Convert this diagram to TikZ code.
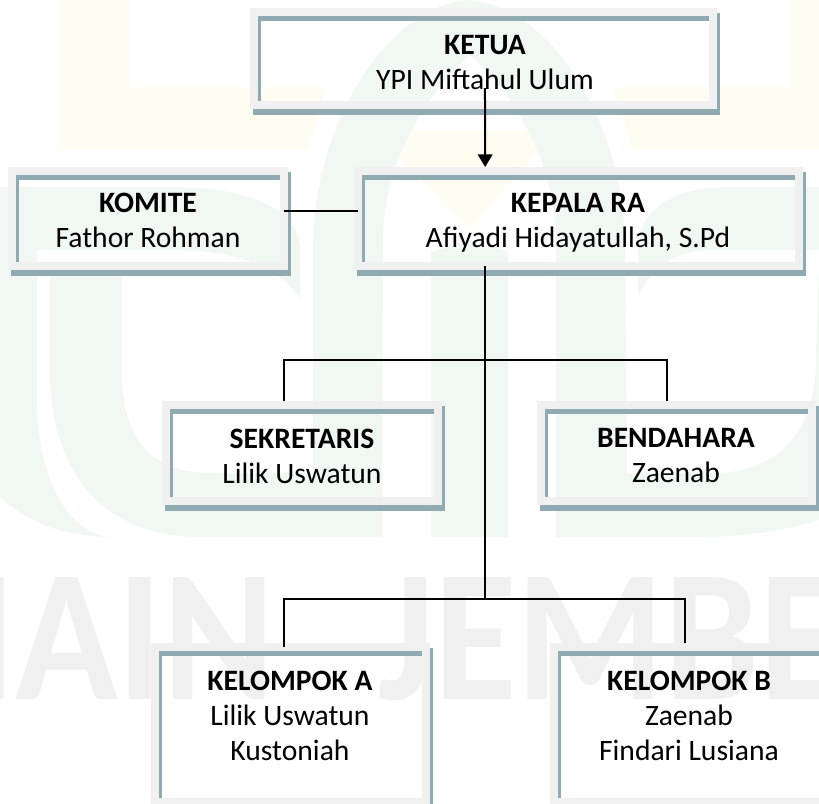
\documentclass[tikz,border=0pt]{standalone}
\usepackage{fontspec}
\setmainfont{Carlito}
\usetikzlibrary{arrows.meta}

\definecolor{framegray}{HTML}{F0F0F0}
\definecolor{frameteal}{HTML}{8FABB1}
\definecolor{markgreen}{HTML}{F1F8F3}
\definecolor{markyellow}{HTML}{FFFDF1}

% shadow lines round a box
\newcommand{\orgframe}[1]{
    \draw [frameteal, line width=3.75pt] ([xshift=3pt, yshift=-4.875pt]#1.north west) -- ([xshift=-3pt, yshift=-4.875pt]#1.north east);
    \draw [frameteal, line width=2.25pt] ([xshift=4.125pt, yshift=-3pt]#1.north west) -- ([xshift=4.125pt, yshift=3pt]#1.south west);
    \draw [frameteal, line width=2.25pt] ([xshift=4.125pt, yshift=-.75pt]#1.north east) -- ([xshift=4.125pt, yshift=-7.5pt]#1.south east);
    \draw [frameteal, line width=4.5pt] ([xshift=-.75pt, yshift=-5.25pt]#1.south west) -- ([xshift=5.25pt, yshift=-5.25pt]#1.south east);
}

\begin{document}
\begin{tikzpicture}[
            x=.75pt, y=-.75pt,
            orgbox/.style 2 args={draw=framegray, line width=6pt, inner sep=0pt, outer sep=0pt, minimum width=#1*.75pt, minimum height=#2*.75pt},
            orgtext/.style={align=center, inner sep=0pt, font=\fontsize{22.2}{26.25}\selectfont},
            marktext/.style={anchor=north west, inner sep=0pt, text=framegray, font=\fontsize{141}{141}\bfseries\selectfont},
            link/.style={black, line width=1pt},
            arrow/.style={-{Triangle[length=9.5pt, width=11pt]}, black, line width=1.5pt}
        ]
        \clip (0,0) rectangle (819,804);

        % Watermark
        \fill [markyellow] (61,0) -- (130,0) -- (130,87) -- (327,87) -- (307,150) -- (61,150) -- cycle;
        \fill [markyellow] (819,0) -- (790,0) -- (790,87) -- (613,87) -- (632,150) -- (819,150) -- cycle;
        \fill [markyellow] (400,160) -- (410,130) -- (530,130) -- (540,150) -- (470,228) -- cycle;
        \fill [markgreen] (0,187) -- (170,187) .. controls (240,187) and (300,205) .. (300,250) -- (300,298) .. controls (270,258) and (220,250) .. (170,250) -- (37,250) -- (37,400) .. controls (37,480) and (70,537) .. (113,537) .. controls (70,537) and (30,525) .. (0,497) -- cycle;
        \fill [markgreen] (638,298) -- (638,250) .. controls (638,205) and (680,187) .. (730,187) -- (819,187) -- (819,250) -- (710,250) .. controls (680,250) and (650,265) .. (638,298) -- cycle;
        \fill [markgreen] (50,262) -- (122,262) -- (122,370) .. controls (122,440) and (150,473) .. (213,473) -- (313,473) -- (313,250) .. controls (313,120) and (390,5) .. (469,0) .. controls (548,5) and (625,120) .. (625,250) -- (627,473) -- (720,473) .. controls (780,470) and (816,430) .. (816,360) -- (819,262) -- (819,520) .. controls (780,532) and (740,537) .. (700,537) -- (556,537) -- (556,240) .. controls (556,160) and (510,90) .. (470,55) .. controls (430,90) and (383,160) .. (383,240) -- (382,537) -- (200,537) .. controls (110,537) and (50,480) .. (50,370) -- cycle;
        \fill [markgreen] (431,252) -- (470,240) -- (508,252) -- (508,537) -- (431,537) -- cycle;
        \node (markiain) at (-30,577) [marktext] {\scalebox{.9}[1]{IAIN}};
        \node (markjember) at (378,577) [marktext] {\scalebox{.9}[1]{JEMBER}};

        % Boxes
        \node (ketua) at (483.5,58.5) [orgbox={459}{93}] {};
        \node (komite) at (148,218.5) [orgbox={272}{95}] {};
        \node (kepala) at (578.5,218.5) [orgbox={441}{95}] {};
        \node (sekretaris) at (302,453) [orgbox={272}{96}] {};
        \node (bendahara) at (676.5,453) [orgbox={271}{96}] {};
        \node (kelompoka) at (290.5,724.5) [orgbox={271}{155}] {};
        \node (kelompokb) at (689,724.5) [orgbox={270}{155}] {};

        \orgframe{ketua}
        \orgframe{komite}
        \orgframe{kepala}
        \orgframe{sekretaris}
        \orgframe{bendahara}
        \orgframe{kelompoka}
        \orgframe{kelompokb}

        % Texts
        \node (ketuatext) at (485,63) [orgtext] {\textbf{KETUA}\\YPI Miftahul Ulum};
        \node (komitetext) at (148,220) [orgtext] {\textbf{KOMITE}\\Fathor Rohman};
        \node (kepalatext) at (578,223) [orgtext] {\textbf{KEPALA RA}\\Afiyadi Hidayatullah, S.Pd};
        \node (sekretaristext) at (302,456) [orgtext] {\textbf{SEKRETARIS}\\Lilik Uswatun};
        \node (bendaharatext) at (676,456) [orgtext] {\textbf{BENDAHARA}\\Zaenab};
        \node (kelompokatext) at (290,716) [orgtext] {\textbf{KELOMPOK A}\\Lilik Uswatun\\Kustoniah};
        \node (kelompokbtext) at (689,716) [orgtext] {\textbf{KELOMPOK B}\\Zaenab\\Findari Lusiana};

        % Connectors
        \coordinate (split1) at (485,360);
        \coordinate (split2) at (485,599);

        \draw [arrow] ([xshift=1.1pt, yshift=12.75pt]ketua.south) -- ([xshift=-70pt, yshift=3pt]kepala.north);
        \draw [link] ([yshift=5.6pt]komite.east) -- ([yshift=5.6pt]kepala.west);
        \draw [link] (kepala.south -| split1) -- (split2);
        \draw [link] ([xshift=-13.5pt, yshift=3pt]sekretaris.north) |- (split1);
        \draw [link] ([xshift=-7.1pt, yshift=3pt]bendahara.north) |- (split1);
        \draw [link, line width=1.5pt] (kelompoka.north -| 284,0) |- (split2);
        \draw [link, line width=1.5pt] ([xshift=-3pt, yshift=3pt]kelompokb.north) |- (split2);
\end{tikzpicture}
\end{document}
